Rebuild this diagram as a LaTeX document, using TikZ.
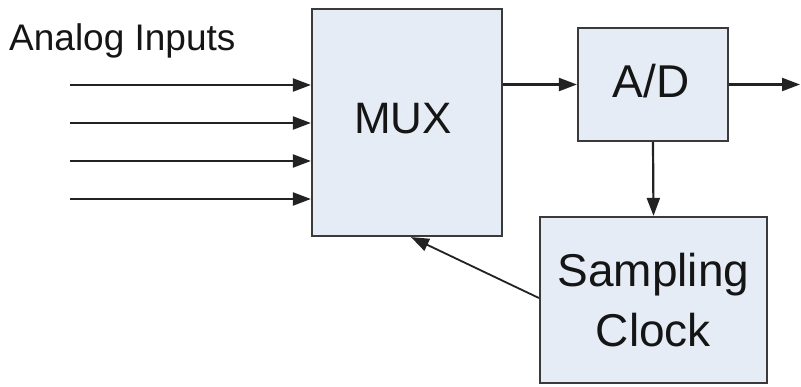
\documentclass[tikz,border=0pt]{standalone}
\usepackage{fontspec}
\setmainfont{Liberation Sans}
\usetikzlibrary{arrows.meta,calc}
\definecolor{boxfill}{HTML}{E6ECF6}
\definecolor{boxdraw}{HTML}{3A3A3A}
\definecolor{linec}{HTML}{222222}
\definecolor{txt}{HTML}{151515}
\tikzset{
  blockbox/.style={draw=boxdraw, line width=2.2pt, fill=boxfill, inner sep=0pt, rectangle, align=center, text=txt, font=\fontsize{46}{60}\selectfont},
  conn/.style={draw=linec, line width=2.2pt, -{Triangle[length=18pt,width=13pt]}}
}
\begin{document}
\begin{tikzpicture}[x=1pt,y=-1pt]
\useasboundingbox (0,0) rectangle (801,386);
\fill[white] (0,0) rectangle (801,386);
\node[blockbox, minimum width=190pt, minimum height=227pt] (mux) at (407,122.5) {};
\node[text=txt, font=\fontsize{44}{50}\selectfont] (muxt) at (403,119) {MUX};
\node[blockbox, minimum width=150pt, minimum height=113pt] (ad) at (653,84.5) {};
\node[text=txt, font=\fontsize{46}{50}\selectfont] (adt) at (651,81) {A/D};
\node[blockbox, minimum width=227pt, minimum height=166pt] (clk) at (653.5,300) {Sampling\\Clock};
\node[anchor=base west, inner sep=0pt, text=txt, font=\fontsize{37}{40}\selectfont] (lbl) at (9,50) {Analog Inputs};
\coordinate (in1) at (70,85);
\coordinate (in2) at (70,123);
\coordinate (in3) at (70,161);
\coordinate (in4) at (70,199);
\foreach \i in {1,2,3,4} {\draw[conn] (in\i) -- (in\i -| mux.west);}
\draw[conn] (ad.west -| mux.east) -- (ad.west);
\coordinate (out) at (800,84.5);
\draw[conn] (ad.east) -- (out);
\draw[conn] (ad.south) -- (clk.north);
\coordinate (fb) at ([xshift=4pt]mux.south);
\draw[conn, line width=1.8pt] ([yshift=2pt]clk.west) -- (fb);
\end{tikzpicture}
\end{document}
